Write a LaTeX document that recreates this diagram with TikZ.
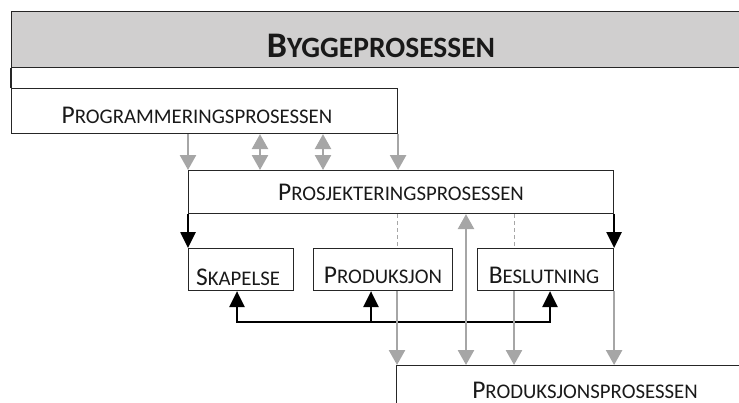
\documentclass[tikz,border=0pt]{standalone}
\usepackage{fontspec}
\setmainfont{Carlito}
\usetikzlibrary{arrows.meta}

% small capitals built from two sizes of the same face
\newcommand\capsA[2]{{\fontsize{25.5}{25.5}\selectfont #1}{\fontsize{20.8}{20.8}\selectfont #2}}
\newcommand\capsT[2]{{\bfseries{\fontsize{36}{36}\selectfont #1}{\fontsize{29.5}{29.5}\selectfont #2}}}

\definecolor{bandgray}{RGB}{208,207,207}
\definecolor{flowgray}{RGB}{166,166,166}

\begin{document}
\begin{tikzpicture}[x=1pt,y=-1pt,
  frame/.style={draw=black!85, line width=1.1pt, rectangle, inner sep=0pt, anchor=north west},
  band/.style={frame, fill=bandgray},
  label/.style={anchor=base, inner sep=0pt, text=black!90},
  flow/.style={draw=flowgray, line width=2.6pt, -{Triangle[width=16pt,length=15pt]}},
  flowtwo/.style={flow, {Triangle[width=16pt,length=15pt]}-{Triangle[width=16pt,length=15pt]}},
  link/.style={draw=black, line width=2.6pt, -{Triangle[width=15pt,length=16pt]}},
  linktwo/.style={link, {Triangle[width=15pt,length=16pt]}-{Triangle[width=15pt,length=16pt]}},
  guide/.style={draw=flowgray, line width=1pt, dash pattern=on 4pt off 3pt}]
\useasboundingbox (0,0) rectangle (739,402);

% boxes
\node[band, minimum width=800pt, minimum height=56pt] (bygg) at (11,11) {};
\node[frame, minimum width=386pt, minimum height=45pt] (prog) at (11,88) {};
\node[frame, minimum width=425pt, minimum height=43pt] (prosj) at (188,170) {};
\node[frame, minimum width=105pt, minimum height=42pt] (skap) at (188,248) {};
\node[frame, minimum width=139pt, minimum height=42pt] (prod) at (313,248) {};
\node[frame, minimum width=136pt, minimum height=42pt] (besl) at (477,248) {};
\node[frame, minimum width=378pt, minimum height=60pt] (pp) at (396,365) {};

% texts
\node[label] (tbygg) at (381,57) {\capsT{B}{YGGEPROSESSEN}};
\node[label] (tprog) at (197,123) {\capsA{P}{ROGRAMMERINGSPROSESSEN}};
\node[label] (tprosj) at (401,200) {\capsA{P}{ROSJEKTERINGSPROSESSEN}};
\node[label] (tskap) at (238,285) {\capsA{S}{KAPELSE}};
\node[label] (tprod) at (383,283) {\capsA{P}{RODUKSJON}};
\node[label] (tbesl) at (544,283) {\capsA{B}{ESLUTNING}};
\node[label] (tpp) at (585,398) {\capsA{P}{RODUKSJONSPROSESSEN}};

% column positions of the vertical connectors
\coordinate (cB) at (260,0);
\coordinate (cC) at (323,0);
\coordinate (cD) at (397,0);
\coordinate (cE) at (466,0);
\coordinate (cF) at (514,0);
\coordinate (cS) at (237,0);
\coordinate (cP) at (371,0);
\coordinate (cQ) at (550,0);
\coordinate (bus) at (0,322);

% frame line from the title band down to the first box
\draw[draw=black!85, line width=1.1pt] (bygg.south west) -- (prog.north west);

% programming -> design
\draw[flow] (prosj.north west |- prog.south) -- (prosj.north west);
\draw[flowtwo] (cB |- prog.south) -- (cB |- prosj.north);
\draw[flowtwo] (cC |- prog.south) -- (cC |- prosj.north);
\draw[flow] (prog.south east) -- (prog.south east |- prosj.north);

% design -> its three activities
\draw[link] (prosj.south west) -- (skap.north west);
\draw[link] (prosj.south east) -- (besl.north east);
\draw[guide] (cD |- prosj.south) -- (cD |- prod.north);
\draw[guide] (cF |- prosj.south) -- (cF |- besl.north);

% feedback between the activities
\draw[linktwo] (cS |- skap.south) -- (cS |- bus) -- (cQ |- bus) -- (cQ |- besl.south);
\draw[link] (cP |- bus) -- (cP |- prod.south);

% towards production
\draw[flow] (cD |- prod.south) -- (cD |- pp.north);
\draw[flowtwo] (cE |- pp.north) -- (cE |- prosj.south);
\draw[flow] (cF |- besl.south) -- (cF |- pp.north);
\draw[flow] (besl.south east) -- (besl.south east |- pp.north);
\end{tikzpicture}
\end{document}
